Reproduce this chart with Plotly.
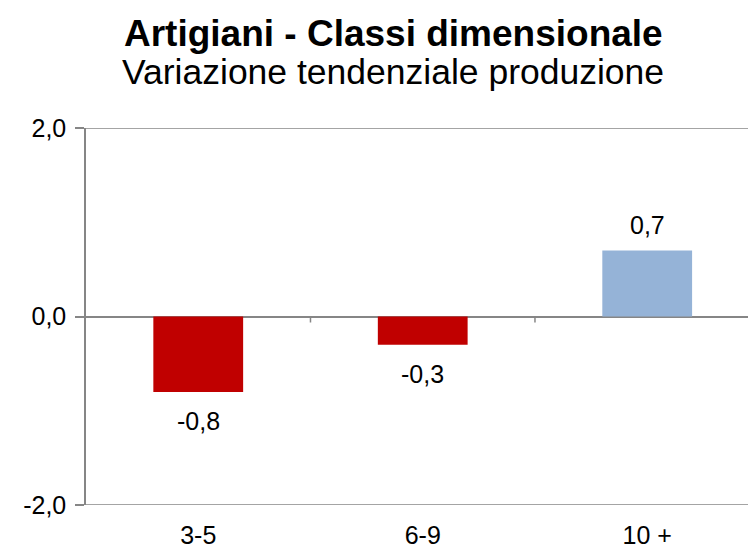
import plotly.graph_objects as go

categories = ["3-5", "6-9", "10 +"]
values = [-0.8, -0.3, 0.7]
bar_colors = ["#C00000", "#C00000", "#95B3D7"]
y_ticks = [-2.0, 0.0, 2.0]
title_text = "Artigiani - Classi dimensionale"
subtitle_text = "Variazione tendenziale produzione"

FONT = "Liberation Sans, Arial, sans-serif"
GRID = "#868686"

def fmt(v):
    return f"{v:.1f}".replace(".", ",")

W, H = 749, 549
ML, MR, MT, MB = 86, 1, 128, 44
plot_h = H - MT - MB
plot_w = W - ML - MR

def px_to_paper_y(py):
    return (H - MB - py) / plot_h

def px_to_paper_x(px):
    return (px - ML) / plot_w

fig = go.Figure()
fig.add_trace(go.Bar(
    x=list(range(len(categories))), y=values,
    marker=dict(color=bar_colors, line=dict(width=0)),
    width=0.4, hoverinfo="skip",
))

for i, v in enumerate(values):
    fig.add_annotation(
        x=i, y=v, xref="x", yref="y", text=fmt(v), showarrow=False,
        yanchor="bottom" if v >= 0 else "top",
        yshift=10 if v >= 0 else -13,
        font=dict(family=FONT, size=25, color="#000000"),
    )

# category boundary ticks on the zero line
for b in [0.5, 1.5]:
    fig.add_shape(type="line", xref="x", yref="y", x0=b, x1=b,
                  ysizemode="pixel", yanchor=0, y0=0, y1=-6,
                  line=dict(color=GRID, width=1.5))

# gridlines at the range edges
for t in [y_ticks[0], y_ticks[-1]]:
    fig.add_shape(type="line", xref="paper", yref="y", x0=0, x1=1, y0=t, y1=t,
                  line=dict(color=GRID, width=1.5), layer="above")

fig.add_annotation(
    text=f"<b>{title_text}</b>", xref="paper", yref="paper",
    x=px_to_paper_x(393), y=px_to_paper_y(34), xanchor="center", yanchor="middle",
    showarrow=False, font=dict(family=FONT, size=37, color="#000000"),
)
fig.add_annotation(
    text=subtitle_text, xref="paper", yref="paper",
    x=px_to_paper_x(393), y=px_to_paper_y(72), xanchor="center", yanchor="middle",
    showarrow=False, font=dict(family=FONT, size=35.5, color="#000000"),
)

fig.update_layout(
    width=W, height=H,
    margin=dict(l=ML, r=MR, t=MT, b=MB, autoexpand=False),
    paper_bgcolor="white", plot_bgcolor="white",
    showlegend=False,
    separators=",.",
    xaxis=dict(
        range=[-0.5, 2.449], tickmode="array",
        tickvals=list(range(len(categories))), ticktext=categories,
        showgrid=False, zeroline=False, showline=False, ticks="",
        tickfont=dict(family=FONT, size=25, color="#000000"),
        ticklabelstandoff=13,
        fixedrange=True,
    ),
    yaxis=dict(
        range=[-2.0, 2.0], tickmode="array", tickvals=y_ticks,
        ticktext=[fmt(t) for t in y_ticks],
        showgrid=True, gridcolor=GRID, gridwidth=1.5,
        zeroline=True, zerolinecolor=GRID, zerolinewidth=1.5,
        showline=True, linecolor=GRID, linewidth=1.5,
        ticks="outside", ticklen=9, tickcolor=GRID, tickwidth=1.5,
        tickfont=dict(family=FONT, size=25, color="#000000"),
        ticklabelstandoff=4,
        fixedrange=True,
    ),
)

fig.write_html("out.html", config={"displayModeBar": False},
               post_script="document.body.style.margin='0';document.body.style.padding='0';")
